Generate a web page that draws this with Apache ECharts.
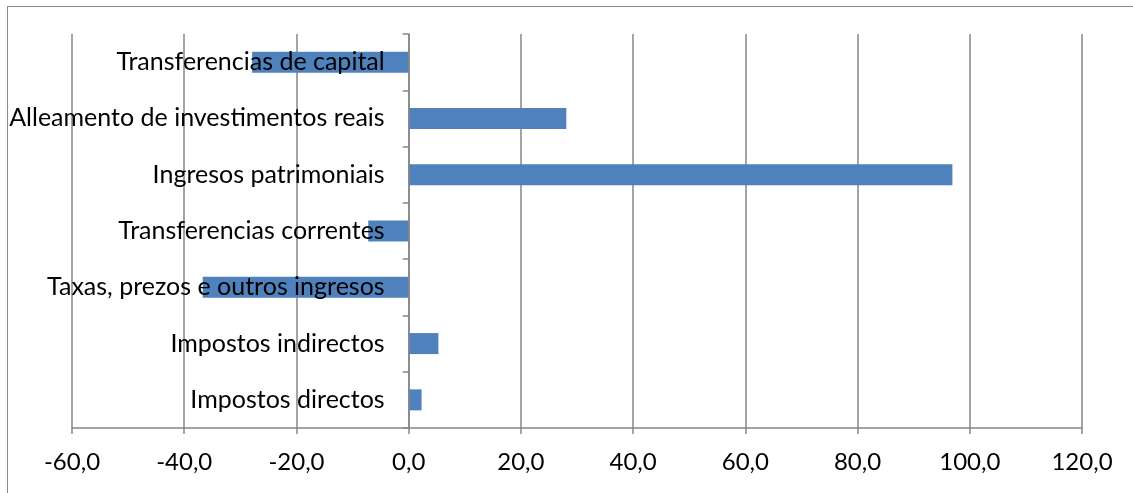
<!DOCTYPE html>
<html><head><meta charset="utf-8">
<script src="https://cdn.jsdelivr.net/npm/echarts@6/dist/echarts.min.js"></script>
<style>
html,body{margin:0;padding:0;background:#fff;overflow:hidden;}
#frame{position:absolute;left:7px;top:6px;width:1140px;height:520px;border:1px solid #8c8c8c;box-sizing:border-box;}
#c{position:absolute;left:0;top:0;width:1133px;height:493px;}
</style></head>
<body>
<div id="frame"></div>
<div id="c"></div>
<script>
const categories = ["Impostos directos","Impostos indirectos","Taxas, prezos e outros ingresos","Transferencias correntes","Ingresos patrimoniais","Alleamento de investimentos reais","Transferencias de capital"];
const values = [2.3, 5.3, -36.7, -7.2, 96.9, 28.1, -27.9];
const xMin = -60, xMax = 120, xStep = 20;

const W = 1133, gl = 72, gr = 51;
const zeroOffset = -(W - gl - gr) * (0 - xMin) / (xMax - xMin);

const chart = echarts.init(document.getElementById('c'));
chart.setOption({
  animation:false,
  textStyle:{fontFamily:'Lato'},
  grid:{left:gl,right:gr,top:34,bottom:65,containLabel:false,outerBoundsMode:'none'},
  xAxis:{type:'value',min:xMin,max:xMax,interval:xStep,
    axisLine:{show:true,lineStyle:{color:'#868686',width:1.5}},
    axisTick:{show:true,length:6,lineStyle:{color:'#868686',width:1.5}},
    splitLine:{show:true,lineStyle:{color:'#868686',width:1.5}},
    axisLabel:{color:'#000',fontSize:24,margin:22,fontFamily:'Lato',
      formatter:v=>v.toFixed(1).replace('.',',')}},
  yAxis:{type:'category',data:categories,z:5,position:'left',offset:zeroOffset,
    axisLine:{show:true,onZero:false,lineStyle:{color:'#868686',width:1.5}},
    axisTick:{show:true,length:6,inside:false,lineStyle:{color:'#868686',width:1.5}},
    axisLabel:{color:'#000',fontSize:25,margin:24,fontFamily:'Lato'}},
  series:[{type:'bar',data:values,barWidth:21,itemStyle:{color:'#4F81BD'},z:2}]
});
</script>
</body></html>
